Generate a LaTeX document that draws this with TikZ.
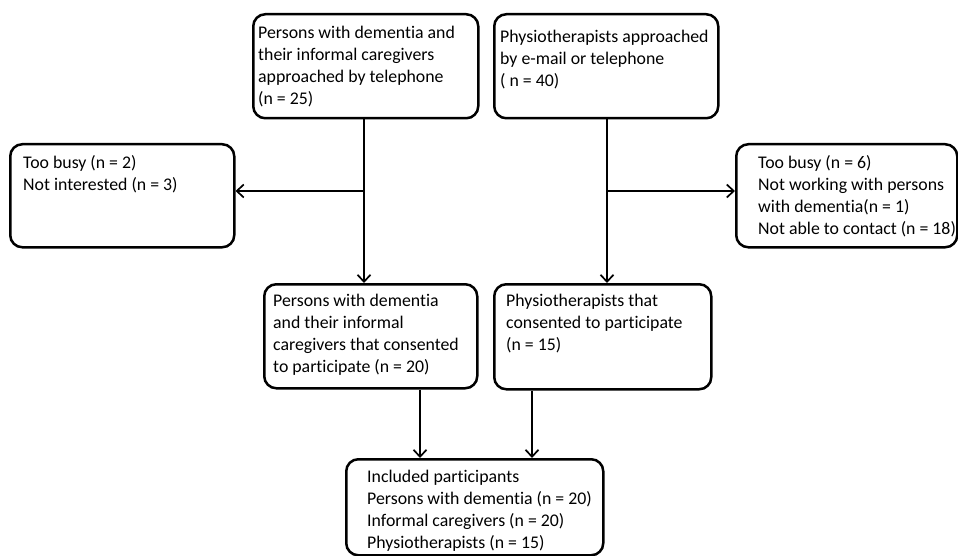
\documentclass[tikz,border=0pt]{standalone}
\usepackage{fontspec}
\setmainfont{Carlito}[Ligatures=NoCommon]
\usetikzlibrary{arrows.meta}
\begin{document}
\begin{tikzpicture}[x=1pt,y=-1pt,
  box/.style={draw, line width=2.5pt, rounded corners=12pt, rectangle, inner sep=0pt, anchor=north west},
  txt/.style={anchor=north west, inner sep=0pt, align=left, font=\fontsize{17.8}{22}\selectfont},
  conn/.style={line width=1.7pt, -{Straight Barb[length=7pt,width=13pt,line width=1.7pt]}},
  plain/.style={line width=1.7pt}]
\useasboundingbox (0,0) rectangle (958,556);
% boxes
\node[box, minimum width=225pt, minimum height=104pt] (A) at (252,13) {};
\node[box, minimum width=224pt, minimum height=104pt] (B) at (493,13) {};
\node[box, minimum width=224pt, minimum height=103pt] (C) at (9,143) {};
\node[box, minimum width=221pt, minimum height=103pt] (E) at (735,143) {};
\node[box, minimum width=213pt, minimum height=104pt] (D) at (263,283) {};
\node[box, minimum width=217pt, minimum height=105pt] (F) at (493,283) {};
\node[box, minimum width=257pt, minimum height=96pt] (G) at (345,458) {};
% texts
\node[txt] (tA) at (258,26) {Persons with dementia and\\their informal caregivers\\approached by telephone\\(n = 25)};
\node[txt] (tB) at (500,30) {Physiotherapists approached\\by e-mail or telephone\\( n = 40)};
\node[txt] (tC) at (23,155) {Too busy (n = 2)\\Not interested (n = 3)};
\node[txt] (tE) at (758,155) {Too busy (n = 6)\\Not working with persons\\with dementia(n = 1)\\Not able to contact (n = 18)};
\node[txt] (tD) at (273,294) {Persons with dementia\\and their informal\\caregivers that consented\\to participate (n = 20)};
\node[txt] (tF) at (506,294) {Physiotherapists that\\consented to participate\\(n = 15)};
\node[txt] (tG) at (367,470) {Included participants\\Persons with dementia (n = 20)\\Informal caregivers (n = 20)\\Physiotherapists (n = 15)};
% connectors
\coordinate (jA) at (364,191);
\coordinate (jB) at (607,191);
\draw[plain] (A.south -| jA) -- (jA);
\draw[conn] (jA) -- (C.east |- jA);
\draw[conn] (jA) -- (D.north -| jA);
\draw[plain] (B.south -| jB) -- (jB);
\draw[conn] (jB) -- (E.west |- jB);
\draw[conn] (jB) -- (F.north -| jB);
\coordinate (xD) at (420,0);
\coordinate (xF) at (532,0);
\draw[conn] (D.south -| xD) -- (G.north -| xD);
\draw[conn] (F.south -| xF) -- (G.north -| xF);
\end{tikzpicture}
\end{document}
